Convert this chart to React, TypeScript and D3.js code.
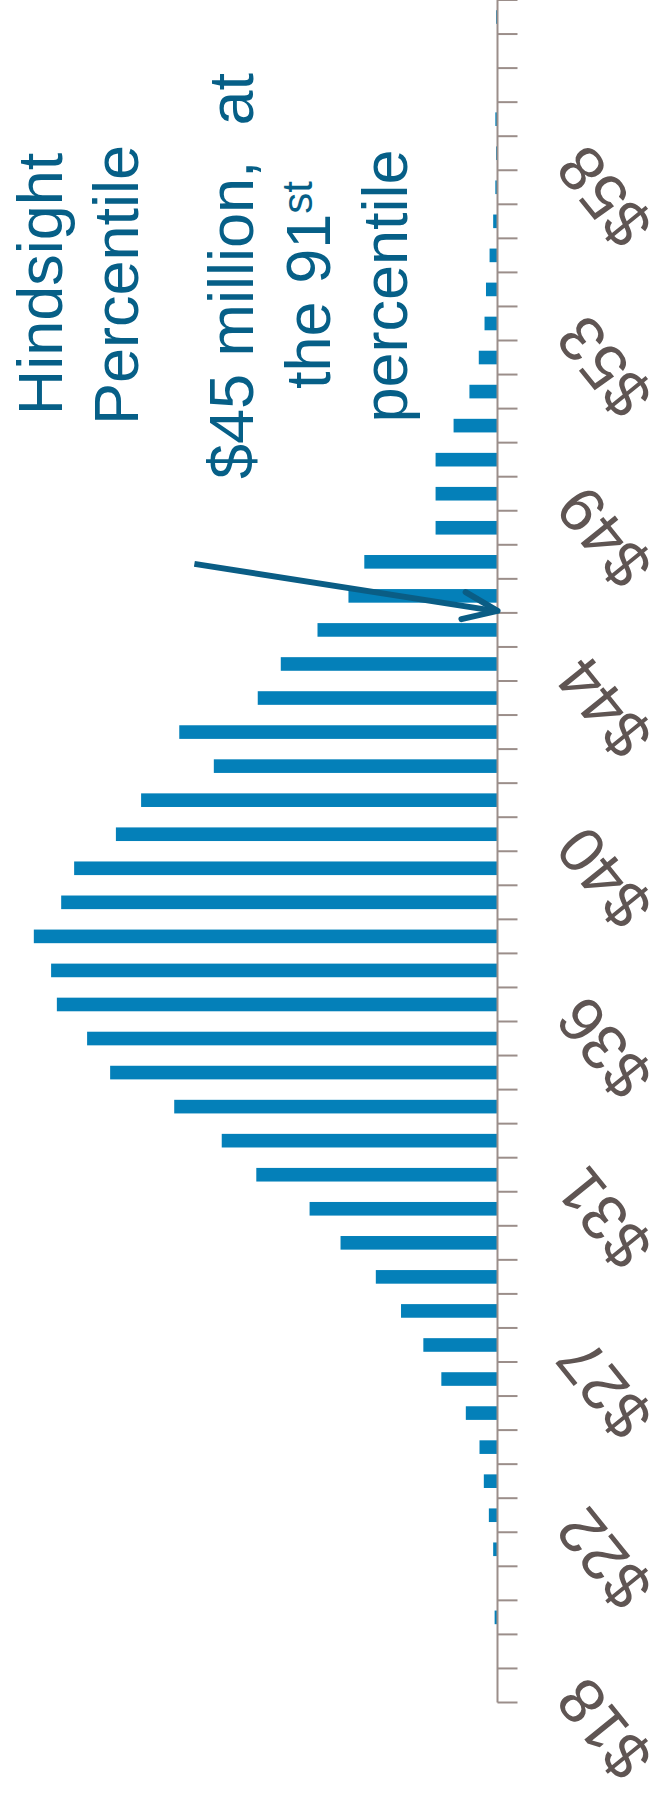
import * as d3 from 'd3'
import React from 'react'

const W = 656
const H = 1799

// histogram bins, 0 = lowest ($18) ... 49 = highest
const bins = d3.range(50)
const counts = [
  0, 0, 4, 0, 6, 12, 19, 25, 44, 78,
  103, 134, 169, 218, 261, 335, 383, 449, 538, 570,
  612, 620, 644, 606, 588, 530, 495, 394, 442, 333,
  301, 250, 207, 185, 86, 86, 86, 61, 39, 26,
  18, 16, 11, 6, 3, 2, 3, 0, 0, 2,
]
const tickBins = [0, 5, 10, 15, 20, 25, 30, 35, 40, 45]
const tickLabels = ['$18', '$22', '$27', '$31', '$36', '$40', '$44', '$49', '$53', '$58']
const markerBin = 32 // boundary at $45 million

const font = 'Liberation Sans, Arial, sans-serif'
const barColor = '#0480b9'
const axisColor = '#9b8e8a'
const labelColor = '#5f5553'
const textColor = '#065f87'
const arrowColor = '#0a5d85'

const App = () => {
  const axisX = 497.5
  const yScale = d3.scaleBand<number>()
    .domain(bins)
    .range([1702.5, 0])
    .paddingInner(0.6)
    .paddingOuter(0.3)
  const xScale = d3.scaleLinear()
    .domain([0, 650])
    .range([axisX, axisX - 468])

  const bw = yScale.bandwidth()
  const step = yScale.step()
  // boundary below bin i
  const boundary = (i) => (i < bins.length ? yScale(i)! + bw / 2 + step / 2 : yScale(bins.length - 1)! + bw / 2 - step / 2)
  const boundaries = d3.range(bins.length + 1).map(boundary)

  const bars = bins.map((b, i) => (
    <rect
      key={b}
      x={xScale(counts[i])}
      y={yScale(b)}
      width={axisX - xScale(counts[i])}
      height={bw}
      fill={barColor}
    />
  ))

  const ticks = boundaries.map((y, i) => (
    <line key={i} x1={axisX} x2={axisX + 20} y1={y} y2={y} stroke={axisColor} strokeWidth={2} />
  ))

  const labels = tickBins.map((b, i) => {
    const cy = yScale(b)! + bw / 2
    return (
      <text
        key={b}
        transform={`translate(${axisX + 90},${cy - 12}) rotate(-129)`}
        textAnchor="end"
        fontSize={64}
        fontFamily={font}
        fill={labelColor}
      >
        {tickLabels[i]}
      </text>
    )
  })

  // arrow pointing at the $45M boundary
  const tip = [axisX, boundary(markerBin) - 2]
  const start = [xScale(421), tip[1] - 47]
  const ang = Math.atan2(tip[1] - start[1], tip[0] - start[0])
  const armLen = 37
  const arm = (a) => [tip[0] - armLen * Math.cos(ang + a), tip[1] - armLen * Math.sin(ang + a)]
  const a1 = arm(0.38)
  const a2 = arm(-0.38)

  const vText = (x, y, content) => (
    <text
      transform={`translate(${x},${y}) rotate(-90)`}
      textAnchor="middle"
      fontSize={63}
      fontFamily={font}
      fill={textColor}
      style={{ whiteSpace: 'pre' }}
    >
      {content}
    </text>
  )

  return (
    <svg width={W} height={H} style={{ position: 'absolute', left: 0, top: 0 }}>
      <rect width={W} height={H} fill="#fff" />
      {bars}
      <line x1={axisX} x2={axisX} y1={boundaries[bins.length]} y2={boundaries[0]} stroke={axisColor} strokeWidth={2} />
      {ticks}
      {labels}
      {vText(62, 284, 'Hindsight')}
      {vText(138, 285, 'Percentile')}
      {vText(253, 276, '$45 million,  at')}
      {vText(330, 285, <>the 91<tspan fontSize={42} dy={-18}>st</tspan></>)}
      {vText(407, 286, 'percentile')}
      <line x1={start[0]} y1={start[1]} x2={tip[0] - 3} y2={tip[1]} stroke={arrowColor} strokeWidth={6} />
      <polyline
        points={`${a1[0]},${a1[1]} ${tip[0]},${tip[1]} ${a2[0]},${a2[1]}`}
        fill="none"
        stroke={arrowColor}
        strokeWidth={6}
        strokeLinecap="round"
        strokeLinejoin="round"
      />
    </svg>
  )
}

export default App
